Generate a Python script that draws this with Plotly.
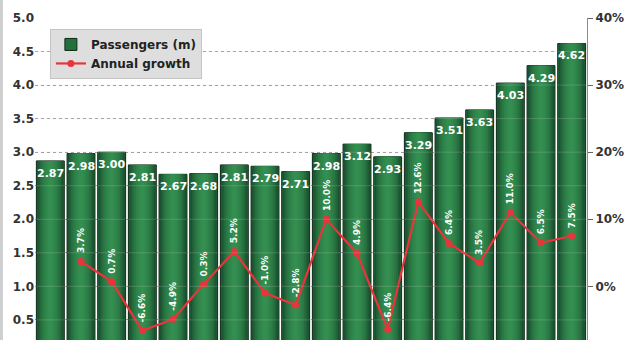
import plotly.graph_objects as go

# Passenger traffic (millions) and year-on-year growth (%)
periods = list(range(1, 19))
passengers = [2.87, 2.98, 3.00, 2.81, 2.67, 2.68, 2.81, 2.79, 2.71,
              2.98, 3.12, 2.93, 3.29, 3.51, 3.63, 4.03, 4.29, 4.62]
growth = [None, 3.7, 0.7, -6.6, -4.9, 0.3, 5.2, -1.0, -2.8,
          10.0, 4.9, -6.4, 12.6, 6.4, 3.5, 11.0, 6.5, 7.5]
left_ticks = [0.5, 1.0, 1.5, 2.0, 2.5, 3.0, 3.5, 4.0, 4.5, 5.0]
right_ticks = [0, 10, 20, 30, 40]
right_ticktext = ["0%", "10%", "20%", "30%", "40%"]

FONT = "DejaVu Sans"

fig = go.Figure()

# Cylinder-like shading: stacked overlays, dark edges to lighter centre
shades = [(0.91, "#17432a"), (0.85, "#1b5030"), (0.77, "#205e37"),
          (0.67, "#256c3e"), (0.55, "#2a7844"), (0.42, "#2e8249"),
          (0.28, "#31894d"), (0.14, "#338e50")]
for i, (w, c) in enumerate(shades):
    fig.add_trace(go.Bar(
        x=periods, y=passengers, width=w,
        name="Passengers (m)", showlegend=(i == 0),
        marker=dict(color=c if i else "#22703c",
                    line=dict(color="#0d2a16" if i == 0 else c, width=1 if i == 0 else 0)),
        hoverinfo="skip" if i else None,
    ))

fig.add_trace(go.Scatter(
    x=periods, y=growth, yaxis="y2", name="Annual growth",
    mode="lines+markers",
    line=dict(color="#e8343a", width=2.2),
    marker=dict(color="#e8343a", size=7),
))

annotations = []
for p, v in zip(periods, passengers):
    annotations.append(dict(
        x=p, y=v, xref="x", yref="y", text=f"{v:.2f}", showarrow=False,
        yanchor="top", yshift=-4,
        font=dict(family=FONT, size=11, color="white", weight="bold"),
    ))
for p, g in zip(periods, growth):
    if g is None:
        continue
    annotations.append(dict(
        x=p, y=g, xref="x", yref="y2", text=f"{g:.1f}%", showarrow=False,
        textangle=-90, yanchor="bottom", yshift=6,
        font=dict(family=FONT, size=9, color="white", weight="bold"),
    ))

# faint grid lines showing across the bars
shapes = [dict(type="line", xref="paper", yref="y", x0=0, x1=1, y0=t, y1=t,
               line=dict(color="rgba(210,210,210,0.22)", width=1), layer="above")
          for t in left_ticks[:-1]]
# light frame strip at the left edge
shapes.append(dict(type="rect", xref="paper", yref="paper",
                   x0=-0.0634, x1=-0.058, y0=-0.1, y1=1.1,
                   fillcolor="#cfcfcf", line=dict(width=0), layer="below"))

fig.update_layout(
    width=630, height=340,
    margin=dict(l=35, r=43, t=18, b=0),
    paper_bgcolor="white", plot_bgcolor="white",
    barmode="overlay",
    showlegend=True,
    legend=dict(
        x=0.027, y=0.966, xanchor="left", yanchor="top",
        bgcolor="#dedede", bordercolor="#c4c4c4", borderwidth=1,
        font=dict(family=FONT, size=12, color="#222", weight="bold"),
        itemwidth=30, tracegroupgap=4,
    ),
    xaxis=dict(type="linear", range=[0.5, 18.5],
               showticklabels=False, showgrid=False, zeroline=False,
               showline=False, ticks=""),
    yaxis=dict(range=[0.2, 5.0], tickvals=left_ticks, ticktext=[f"{t:.1f}" for t in left_ticks],
               showgrid=True, gridcolor="#9a9a9a", griddash="dot", gridwidth=1,
               zeroline=False, showline=False, ticks="",
               tickfont=dict(family=FONT, size=12, color="#333", weight="bold")),
    yaxis2=dict(range=[-8, 40], overlaying="y", side="right",
                tickvals=right_ticks, ticktext=right_ticktext,
                showgrid=False, zeroline=False,
                showline=True, linecolor="#8c8c8c", linewidth=1,
                ticks="outside", ticklen=5, tickcolor="#666",
                tickfont=dict(family=FONT, size=12, color="#333", weight="bold")),
    annotations=annotations,
    shapes=shapes,
)

fig.write_html("out.html")
